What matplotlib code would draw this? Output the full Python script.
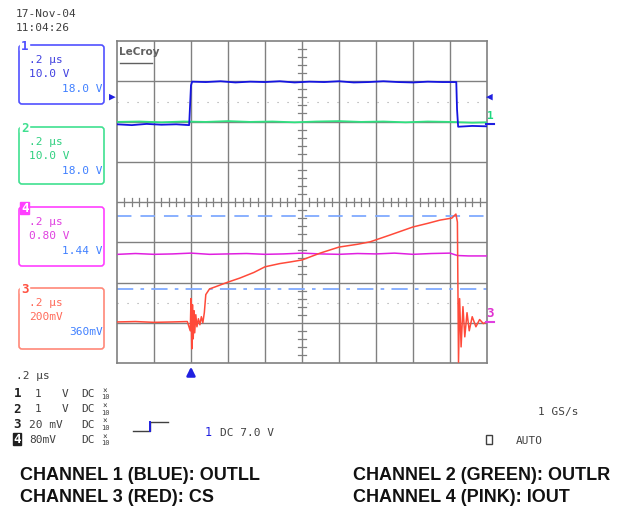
import matplotlib
matplotlib.use("Agg")
import matplotlib.pyplot as plt
from matplotlib.patches import FancyBboxPatch, Rectangle

# screen in divisions: x -5..5 (0.2 us/div), y -4..4
ch1_t = [-5.0, -4.6, -4.2, -3.8, -3.4, -3.05, -3.0, -2.97, -2.6, -2.2, -1.8, -1.4, -1.0, -0.6,
         -0.2, 0.2, 0.6, 1.0, 1.4, 1.8, 2.2, 2.6, 3.0, 3.4, 3.8, 4.17, 4.19, 4.22, 4.6, 5.0]
ch1_v = [1.93, 1.91, 1.94, 1.92, 1.93, 1.91, 2.9, 2.99, 2.98, 3.0, 2.97, 2.99, 2.98, 3.0,
         2.97, 2.99, 2.98, 3.0, 2.97, 2.98, 3.0, 2.98, 2.97, 2.99, 2.98, 2.98, 2.3, 1.87, 1.89, 1.88]

ch2_t = [-5.0, -4.4, -3.8, -3.2, -2.6, -2.0, -1.4, -0.8, -0.2, 0.4, 1.0, 1.6, 2.2, 2.8, 3.4, 4.0, 4.6, 5.0]
ch2_v = [1.99, 2.0, 1.98, 2.0, 1.99, 2.01, 1.99, 2.0, 1.98, 2.0, 2.01, 1.99, 2.0, 1.98, 2.0, 1.99, 1.97, 1.98]

ch4_t = [-4.97, -4.5, -4.0, -3.5, -3.0, -2.5, -2.0, -1.5, -1.0, -0.5, 0.0, 0.5, 1.0, 1.5,
         2.0, 2.5, 3.0, 3.5, 4.0, 4.2, 4.5, 5.0]
ch4_v = [-1.3, -1.28, -1.3, -1.29, -1.27, -1.3, -1.29, -1.28, -1.3, -1.29, -1.27, -1.29, -1.3, -1.28,
         -1.29, -1.27, -1.3, -1.28, -1.27, -1.33, -1.34, -1.34]

ch3_t = [-5.0, -4.5, -4.0, -3.5, -3.1, -3.02, -3.0, -2.98, -2.96, -2.94, -2.92, -2.9, -2.87, -2.84,
         -2.8, -2.76, -2.72, -2.68, -2.64, -2.6, -2.5, -2.35, -2.0, -1.68, -1.3, -1.0, -0.6, -0.32,
         0.0, 0.49, 1.0, 1.5, 1.84, 2.38, 3.0, 3.4, 3.73, 4.05, 4.16, 4.2, 4.23, 4.26, 4.3, 4.35,
         4.4, 4.46, 4.52, 4.6, 4.7, 4.8, 4.9, 5.0]
ch3_v = [-2.98, -2.97, -2.99, -2.98, -2.97, -3.2, -2.4, -3.65, -2.55, -3.4, -2.7, -3.25, -2.8, -3.1,
         -2.9, -3.05, -2.85, -3.0, -2.75, -2.3, -2.16, -2.11, -1.99, -1.89, -1.75, -1.61, -1.53, -1.49,
         -1.44, -1.27, -1.12, -1.05, -0.99, -0.82, -0.62, -0.53, -0.45, -0.4, -0.3, -0.5, -3.98, -2.4,
         -3.6, -2.6, -3.35, -2.75, -3.2, -2.85, -3.1, -2.92, -3.02, -2.98]

ref_dash = -0.35
ref_dashdot = -2.16
dot_lines = [2.48, -2.51]

W, H = 627, 510
fig = plt.figure(figsize=(W / 100, H / 100), dpi=100)
fig.patch.set_facecolor("white")

gl, gr, gt, gb = 117, 487, 42, 364
ax = fig.add_axes([gl / W, 1 - gb / H, (gr - gl) / W, (gb - gt) / H])
ax.set_xlim(-5, 5)
ax.set_ylim(-4, 4)
ax.set_xticks([])
ax.set_yticks([])
grey = "#808080"
for s in ax.spines.values():
    s.set_color(grey)
    s.set_linewidth(1.2)
for x in range(-4, 5):
    ax.axvline(x, color=grey, lw=1.0, zorder=1)
for y in range(-3, 4):
    ax.axhline(y, color=grey, lw=1.0, zorder=1)
# centre cross ticks
for i in range(-25, 26):
    if i % 5:
        ax.plot([i * 0.2, i * 0.2], [-0.1, 0.1], color=grey, lw=0.9, zorder=1)
for i in range(-20, 21):
    if i % 5:
        ax.plot([-0.11, 0.11], [i * 0.2, i * 0.2], color=grey, lw=0.9, zorder=1)
for y in dot_lines:
    ax.axhline(y, color="#a0a0a0", lw=0.8, ls=(0, (1, 8)), zorder=1)
ax.axhline(ref_dash, color="#80aaff", lw=1.3, ls=(0, (8, 5)), zorder=2)
ax.axhline(ref_dashdot, color="#80aaff", lw=1.3, ls=(0, (9, 4, 2, 4)), zorder=2)

ax.plot(ch2_t, ch2_v, color="#30e080", lw=1.3, zorder=3)
ax.plot(ch1_t, ch1_v, color="#1515e0", lw=1.3, zorder=4)
ax.plot(ch4_t, ch4_v, color="#e020e0", lw=1.1, zorder=3)
ax.plot(ch3_t, ch3_v, color="#ff4a3a", lw=1.1, zorder=5)

ax.text(-4.95, 3.88, "LeCroy", fontsize=7.5, fontweight="bold", color="#606060",
        family="DejaVu Sans Condensed", va="top", ha="left")
ax.plot([-4.93, -4.05], [3.45, 3.45], color="#606060", lw=1.0)

# overlay in pixel coordinates
ov = fig.add_axes([0, 0, 1, 1], facecolor="none")
ov.set_xlim(0, W)
ov.set_ylim(H, 0)
ov.axis("off")
mono = "DejaVu Sans Mono"


def t(x, y, s, c="#404040", size=8, ha="left", **kw):
    ov.text(x, y, s, color=c, fontsize=size, family=mono, ha=ha, va="center", **kw)


t(16, 14, "17-Nov-04")
t(16, 28, "11:04:26")

boxes = [
    (46, 105, "1", "#5050ff", "#4040e0", ".2 µs", "10.0 V", "18.0 V"),
    (128, 185, "2", "#40e090", "#30d080", ".2 µs", "10.0 V", "18.0 V"),
    (208, 267, "4", "#ff40ff", "#e040e0", ".2 µs", "0.80 V", "1.44 V"),
    (289, 350, "3", "#ff8878", "#ff6a5a", ".2 µs", "200mV", "360mV"),
]
for top, bot, num, edge, tc, l1, l2, l3 in boxes:
    ov.add_patch(FancyBboxPatch((19, top), 85, bot - top, boxstyle="round,pad=0,rounding_size=3",
                                fill=False, ec=edge, lw=1.2))
    if num == "4":
        ov.add_patch(Rectangle((20, top - 5), 9, 12, color=edge))
        t(21, top + 1, num, c="white", size=9, fontweight="bold")
    else:
        ov.add_patch(Rectangle((20, top - 5), 9, 10, color="white"))
        t(21, top + 1, num, c=edge if num != "3" else "#ff5040", size=9, fontweight="bold")
    t(29, top + 14, l1, c=tc)
    t(29, top + 28, l2, c=tc)
    t(103, top + 43, l3, c="#4080ff", ha="right")

# ground / trace markers
t(112, 97, "▶", c="#2020e0", size=8, ha="center")
t(489, 97, "◀", c="#2020e0", size=8, ha="center")
t(490, 116, "1", c="#20d880", size=8, ha="center", fontweight="bold")
ov.plot([486, 494], [125, 125], color="#2020e0", lw=1.5)
t(490, 314, "3", c="#e030d0", size=9, ha="center", fontweight="bold")
ov.plot([486, 494], [323, 323], color="#e040e0", lw=1.5)
ov.annotate("", xy=(191, 365), xytext=(191, 379),
            arrowprops=dict(arrowstyle="-|>,head_width=0.25,head_length=0.5", color="#2020e0", lw=1.8))

# bottom status area
t(16, 376, ".2 µs")
rows = [("1", "1", "V"), ("2", "1", "V"), ("3", "20", "mV"), ("4", "80mV", "")]
for i, (ch, val, unit) in enumerate(rows):
    y = 394 + i * 15.3
    if ch == "4":
        ov.add_patch(Rectangle((13, y - 6), 8, 12, color="#202020"))
        t(13.5, y, ch, c="white", size=9, fontweight="bold")
        t(29, y, val)
    else:
        t(13.5, y, ch, c="#202020", size=9, fontweight="bold")
        if unit == "V":
            t(35, y, val)
            t(62, y, unit)
        else:
            t(29, y, val + " " + unit)
    t(81, y, "DC")
    t(105, y - 3, "×", size=5.5, ha="center")
    t(105, y + 3.5, "10", size=5, ha="center")

ov.plot([133, 150, 150, 168], [432, 432, 423, 423], color="#404040", lw=1.0)
ov.plot([150, 150], [432, 423], color="#2020e0", lw=1.4)
t(205, 433, "1", c="#2020e0", size=8.5)
t(220, 433, "DC 7.0 V")
t(538, 412, "1 GS/s")
ov.add_patch(Rectangle((486, 436), 6, 9, fill=False, ec="#404040", lw=1))
t(516, 441, "AUTO")

bold = dict(fontsize=13, fontweight="bold", family="Liberation Sans", color="#111111", va="center")
ov.text(20, 476, "CHANNEL 1 (BLUE): OUTLL", **bold)
ov.text(20, 498, "CHANNEL 3 (RED): CS", **bold)
ov.text(353, 476, "CHANNEL 2 (GREEN): OUTLR", **bold)
ov.text(353, 498, "CHANNEL 4 (PINK): IOUT", **bold)

fig.savefig("out.png", dpi=100)
